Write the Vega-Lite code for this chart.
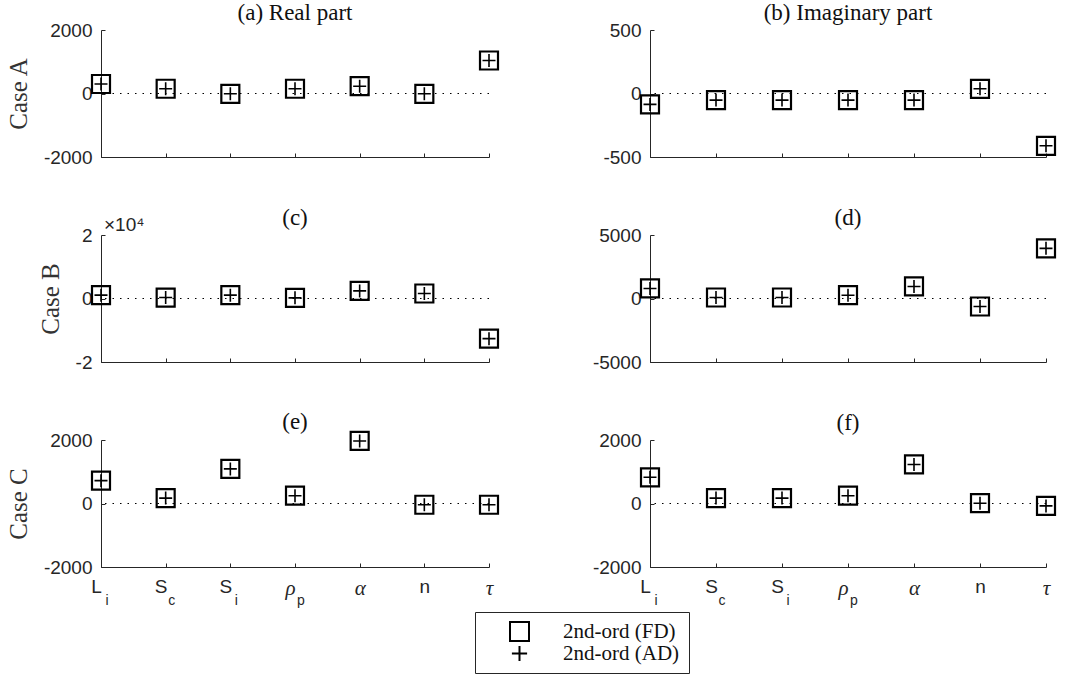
{
  "$schema": "https://vega.github.io/schema/vega-lite/v6.json",
  "background": "white",
  "padding": {"left": 6, "top": 2, "right": 5, "bottom": 5},
  "datasets": {
    "vals": [
      {"case": "A", "part": "Real", "param": "Li", "fd": 300, "ad": 300},
      {"case": "A", "part": "Real", "param": "Sc", "fd": 150, "ad": 150},
      {"case": "A", "part": "Real", "param": "Si", "fd": -10, "ad": -10},
      {"case": "A", "part": "Real", "param": "rho_p", "fd": 150, "ad": 150},
      {"case": "A", "part": "Real", "param": "alpha", "fd": 230, "ad": 230},
      {"case": "A", "part": "Real", "param": "n", "fd": -10, "ad": -10},
      {"case": "A", "part": "Real", "param": "tau", "fd": 1040, "ad": 1040},
      {"case": "A", "part": "Imag", "param": "Li", "fd": -86, "ad": -86},
      {"case": "A", "part": "Imag", "param": "Sc", "fd": -52, "ad": -52},
      {"case": "A", "part": "Imag", "param": "Si", "fd": -52, "ad": -52},
      {"case": "A", "part": "Imag", "param": "rho_p", "fd": -52, "ad": -52},
      {"case": "A", "part": "Imag", "param": "alpha", "fd": -52, "ad": -52},
      {"case": "A", "part": "Imag", "param": "n", "fd": 37, "ad": 37},
      {"case": "A", "part": "Imag", "param": "tau", "fd": -412, "ad": -412},
      {"case": "B", "part": "Real", "param": "Li", "fd": 1050, "ad": 1050},
      {"case": "B", "part": "Real", "param": "Sc", "fd": 300, "ad": 300},
      {"case": "B", "part": "Real", "param": "Si", "fd": 1050, "ad": 1050},
      {"case": "B", "part": "Real", "param": "rho_p", "fd": 200, "ad": 200},
      {"case": "B", "part": "Real", "param": "alpha", "fd": 2400, "ad": 2400},
      {"case": "B", "part": "Real", "param": "n", "fd": 1580, "ad": 1580},
      {"case": "B", "part": "Real", "param": "tau", "fd": -12640, "ad": -12640},
      {"case": "B", "part": "Imag", "param": "Li", "fd": 790, "ad": 790},
      {"case": "B", "part": "Imag", "param": "Sc", "fd": 80, "ad": 80},
      {"case": "B", "part": "Imag", "param": "Si", "fd": 80, "ad": 80},
      {"case": "B", "part": "Imag", "param": "rho_p", "fd": 260, "ad": 260},
      {"case": "B", "part": "Imag", "param": "alpha", "fd": 950, "ad": 950},
      {"case": "B", "part": "Imag", "param": "n", "fd": -630, "ad": -630},
      {"case": "B", "part": "Imag", "param": "tau", "fd": 3950, "ad": 3950},
      {"case": "C", "part": "Real", "param": "Li", "fd": 720, "ad": 720},
      {"case": "C", "part": "Real", "param": "Sc", "fd": 170, "ad": 170},
      {"case": "C", "part": "Real", "param": "Si", "fd": 1090, "ad": 1090},
      {"case": "C", "part": "Real", "param": "rho_p", "fd": 245, "ad": 245},
      {"case": "C", "part": "Real", "param": "alpha", "fd": 1970, "ad": 1970},
      {"case": "C", "part": "Real", "param": "n", "fd": -40, "ad": -40},
      {"case": "C", "part": "Real", "param": "tau", "fd": -40, "ad": -40},
      {"case": "C", "part": "Imag", "param": "Li", "fd": 825, "ad": 825},
      {"case": "C", "part": "Imag", "param": "Sc", "fd": 170, "ad": 170},
      {"case": "C", "part": "Imag", "param": "Si", "fd": 170, "ad": 170},
      {"case": "C", "part": "Imag", "param": "rho_p", "fd": 245, "ad": 245},
      {"case": "C", "part": "Imag", "param": "alpha", "fd": 1230, "ad": 1230},
      {"case": "C", "part": "Imag", "param": "n", "fd": 10, "ad": 10},
      {"case": "C", "part": "Imag", "param": "tau", "fd": -75, "ad": -75}
    ],
    "subs": [
      {"param": "Li", "sub": "i"},
      {"param": "Sc", "sub": "c"},
      {"param": "Si", "sub": "i"},
      {"param": "rho_p", "sub": "p"}
    ]
  },
  "columns": 2,
  "bounds": "flush",
  "align": "each",
  "spacing": {"row": 78, "column": 161},
  "resolve": {"scale": {"y": "independent", "shape": "shared"}, "legend": {"shape": "shared"}},
  "concat": [
    {
      "width": 388, "height": 127,
      "title": {"text": "(a) Real part", "offset": -4},
      "data": {"name": "vals"},
      "transform": [{"filter": "datum.case == 'A' && datum.part == 'Real'"}],
      "layer": [
        {"data": {"values": [{}]}, "mark": {"type": "rule", "strokeDash": [1.5, 6], "color": "black", "strokeWidth": 1}, "encoding": {"y": {"datum": 0}}},
        {"mark": {"type": "point", "filled": false, "size": 324, "strokeWidth": 2.2, "color": "black", "opacity": 1},
         "encoding": {
           "x": {"field": "param", "type": "ordinal", "sort": ["Li", "Sc", "Si", "rho_p", "alpha", "n", "tau"], "scale": {"type": "point", "padding": 0}, "axis": {"labels": false, "title": null}},
           "y": {"field": "fd", "type": "quantitative", "scale": {"domain": [-2000, 2000], "nice": false, "zero": false}, "axis": {"values": [-2000, 0, 2000], "title": "Case A", "labelExpr": "'' + datum.value"}},
           "shape": {"datum": "2nd-ord (FD)", "scale": {"domain": ["2nd-ord (FD)", "2nd-ord (AD)"], "range": ["square", "M-0.8,0H0.8M0,-0.8V0.8"]}}
         }},
        {"mark": {"type": "point", "filled": false, "size": 264, "strokeWidth": 1.6, "color": "black", "opacity": 1},
         "encoding": {
           "x": {"field": "param", "type": "ordinal", "sort": ["Li", "Sc", "Si", "rho_p", "alpha", "n", "tau"], "scale": {"type": "point", "padding": 0}, "axis": {"labels": false, "title": null}},
           "y": {"field": "ad", "type": "quantitative", "scale": {"domain": [-2000, 2000], "nice": false, "zero": false}, "axis": {"values": [-2000, 0, 2000], "title": "Case A", "labelExpr": "'' + datum.value"}},
           "shape": {"datum": "2nd-ord (AD)"}
         }}
      ]
    },
    {
      "width": 396, "height": 127,
      "title": {"text": "(b) Imaginary part", "offset": -4},
      "data": {"name": "vals"},
      "transform": [{"filter": "datum.case == 'A' && datum.part == 'Imag'"}],
      "layer": [
        {"data": {"values": [{}]}, "mark": {"type": "rule", "strokeDash": [1.5, 6], "color": "black", "strokeWidth": 1}, "encoding": {"y": {"datum": 0}}},
        {"mark": {"type": "point", "filled": false, "size": 324, "strokeWidth": 2.2, "color": "black", "opacity": 1},
         "encoding": {
           "x": {"field": "param", "type": "ordinal", "sort": ["Li", "Sc", "Si", "rho_p", "alpha", "n", "tau"], "scale": {"type": "point", "padding": 0}, "axis": {"labels": false, "title": null}},
           "y": {"field": "fd", "type": "quantitative", "scale": {"domain": [-500, 500], "nice": false, "zero": false}, "axis": {"values": [-500, 0, 500], "title": null, "labelExpr": "'' + datum.value"}},
           "shape": {"datum": "2nd-ord (FD)"}
         }},
        {"mark": {"type": "point", "filled": false, "size": 264, "strokeWidth": 1.6, "color": "black", "opacity": 1},
         "encoding": {
           "x": {"field": "param", "type": "ordinal", "sort": ["Li", "Sc", "Si", "rho_p", "alpha", "n", "tau"], "scale": {"type": "point", "padding": 0}, "axis": {"labels": false, "title": null}},
           "y": {"field": "ad", "type": "quantitative", "scale": {"domain": [-500, 500], "nice": false, "zero": false}, "axis": {"values": [-500, 0, 500], "title": null, "labelExpr": "'' + datum.value"}},
           "shape": {"datum": "2nd-ord (AD)"}
         }}
      ]
    },
    {
      "width": 388, "height": 127,
      "title": {"text": "(c)", "offset": -14},
      "data": {"name": "vals"},
      "transform": [{"filter": "datum.case == 'B' && datum.part == 'Real'"}],
      "layer": [
        {"data": {"values": [{}]}, "mark": {"type": "rule", "strokeDash": [1.5, 6], "color": "black", "strokeWidth": 1}, "encoding": {"y": {"datum": 0}}},
        {"mark": {"type": "point", "filled": false, "size": 324, "strokeWidth": 2.2, "color": "black", "opacity": 1},
         "encoding": {
           "x": {"field": "param", "type": "ordinal", "sort": ["Li", "Sc", "Si", "rho_p", "alpha", "n", "tau"], "scale": {"type": "point", "padding": 0}, "axis": {"labels": false, "title": null}},
           "y": {"field": "fd", "type": "quantitative", "scale": {"domain": [-20000, 20000], "nice": false, "zero": false}, "axis": {"values": [-20000, 0, 20000], "title": "Case B", "labelExpr": "'' + (datum.value / 10000)"}},
           "shape": {"datum": "2nd-ord (FD)"}
         }},
        {"mark": {"type": "point", "filled": false, "size": 264, "strokeWidth": 1.6, "color": "black", "opacity": 1},
         "encoding": {
           "x": {"field": "param", "type": "ordinal", "sort": ["Li", "Sc", "Si", "rho_p", "alpha", "n", "tau"], "scale": {"type": "point", "padding": 0}, "axis": {"labels": false, "title": null}},
           "y": {"field": "ad", "type": "quantitative", "scale": {"domain": [-20000, 20000], "nice": false, "zero": false}, "axis": {"values": [-20000, 0, 20000], "title": "Case B", "labelExpr": "'' + (datum.value / 10000)"}},
           "shape": {"datum": "2nd-ord (AD)"}
         }},
        {"data": {"values": [{"t": "×10⁴"}]},
         "mark": {"type": "text", "align": "left", "baseline": "bottom", "dx": 3, "dy": 0, "font": "Liberation Sans", "fontSize": 19, "color": "#262626"},
         "encoding": {"x": {"datum": "Li"}, "y": {"datum": 20000}, "text": {"field": "t"}}}
      ]
    },
    {
      "width": 396, "height": 127,
      "title": {"text": "(d)", "offset": -4},
      "data": {"name": "vals"},
      "transform": [{"filter": "datum.case == 'B' && datum.part == 'Imag'"}],
      "layer": [
        {"data": {"values": [{}]}, "mark": {"type": "rule", "strokeDash": [1.5, 6], "color": "black", "strokeWidth": 1}, "encoding": {"y": {"datum": 0}}},
        {"mark": {"type": "point", "filled": false, "size": 324, "strokeWidth": 2.2, "color": "black", "opacity": 1},
         "encoding": {
           "x": {"field": "param", "type": "ordinal", "sort": ["Li", "Sc", "Si", "rho_p", "alpha", "n", "tau"], "scale": {"type": "point", "padding": 0}, "axis": {"labels": false, "title": null}},
           "y": {"field": "fd", "type": "quantitative", "scale": {"domain": [-5000, 5000], "nice": false, "zero": false}, "axis": {"values": [-5000, 0, 5000], "title": null, "labelExpr": "'' + datum.value"}},
           "shape": {"datum": "2nd-ord (FD)"}
         }},
        {"mark": {"type": "point", "filled": false, "size": 264, "strokeWidth": 1.6, "color": "black", "opacity": 1},
         "encoding": {
           "x": {"field": "param", "type": "ordinal", "sort": ["Li", "Sc", "Si", "rho_p", "alpha", "n", "tau"], "scale": {"type": "point", "padding": 0}, "axis": {"labels": false, "title": null}},
           "y": {"field": "ad", "type": "quantitative", "scale": {"domain": [-5000, 5000], "nice": false, "zero": false}, "axis": {"values": [-5000, 0, 5000], "title": null, "labelExpr": "'' + datum.value"}},
           "shape": {"datum": "2nd-ord (AD)"}
         }}
      ]
    },
    {
      "width": 388, "height": 127,
      "title": {"text": "(e)", "offset": -6},
      "data": {"name": "vals"},
      "transform": [{"filter": "datum.case == 'C' && datum.part == 'Real'"}],
      "layer": [
        {"data": {"values": [{}]}, "mark": {"type": "rule", "strokeDash": [1.5, 6], "color": "black", "strokeWidth": 1}, "encoding": {"y": {"datum": 0}}},
        {"mark": {"type": "point", "filled": false, "size": 324, "strokeWidth": 2.2, "color": "black", "opacity": 1},
         "encoding": {
           "x": {"field": "param", "type": "ordinal", "sort": ["Li", "Sc", "Si", "rho_p", "alpha", "n", "tau"], "scale": {"type": "point", "padding": 0},
                 "axis": {"title": null, "labelPadding": 14, "labelAngle": 0,
                          "labelExpr": "datum.value == 'Li' ? 'L' : (datum.value == 'Sc' || datum.value == 'Si') ? 'S' : datum.value == 'rho_p' ? 'ρ' : datum.value == 'alpha' ? 'α' : datum.value == 'tau' ? 'τ' : 'n'",
                          "labelFont": {"condition": {"test": "datum.value == 'rho_p' || datum.value == 'alpha' || datum.value == 'tau'", "value": "Liberation Serif"}, "value": "Liberation Sans"},
                          "labelFontStyle": {"condition": {"test": "datum.value == 'rho_p' || datum.value == 'alpha' || datum.value == 'tau'", "value": "italic"}, "value": "normal"},
                          "labelFontSize": {"condition": {"test": "datum.value == 'rho_p' || datum.value == 'alpha' || datum.value == 'tau'", "value": 21}, "value": 19},
                          "labelOffset": {"condition": {"test": "datum.value == 'Li' || datum.value == 'Sc' || datum.value == 'Si' || datum.value == 'rho_p'", "value": -5}, "value": 0}}},
           "y": {"field": "fd", "type": "quantitative", "scale": {"domain": [-2000, 2000], "nice": false, "zero": false}, "axis": {"values": [-2000, 0, 2000], "title": "Case C", "labelExpr": "'' + datum.value"}},
           "shape": {"datum": "2nd-ord (FD)"}
         }},
        {"mark": {"type": "point", "filled": false, "size": 264, "strokeWidth": 1.6, "color": "black", "opacity": 1},
         "encoding": {
           "x": {"field": "param", "type": "ordinal", "sort": ["Li", "Sc", "Si", "rho_p", "alpha", "n", "tau"], "scale": {"type": "point", "padding": 0}},
           "y": {"field": "ad", "type": "quantitative", "scale": {"domain": [-2000, 2000], "nice": false, "zero": false}, "axis": {"values": [-2000, 0, 2000], "title": "Case C", "labelExpr": "'' + datum.value"}},
           "shape": {"datum": "2nd-ord (AD)"}
         }},
        {"data": {"name": "subs"},
         "mark": {"type": "text", "align": "center", "baseline": "alphabetic", "dx": 6, "dy": 38, "font": "Liberation Sans", "fontSize": 14, "color": "#262626"},
         "encoding": {"x": {"field": "param", "type": "ordinal", "sort": ["Li", "Sc", "Si", "rho_p", "alpha", "n", "tau"]}, "y": {"datum": -2000}, "text": {"field": "sub"}}}
      ]
    },
    {
      "width": 396, "height": 127,
      "title": {"text": "(f)", "offset": -4},
      "data": {"name": "vals"},
      "transform": [{"filter": "datum.case == 'C' && datum.part == 'Imag'"}],
      "layer": [
        {"data": {"values": [{}]}, "mark": {"type": "rule", "strokeDash": [1.5, 6], "color": "black", "strokeWidth": 1}, "encoding": {"y": {"datum": 0}}},
        {"mark": {"type": "point", "filled": false, "size": 324, "strokeWidth": 2.2, "color": "black", "opacity": 1},
         "encoding": {
           "x": {"field": "param", "type": "ordinal", "sort": ["Li", "Sc", "Si", "rho_p", "alpha", "n", "tau"], "scale": {"type": "point", "padding": 0},
                 "axis": {"title": null, "labelPadding": 14, "labelAngle": 0,
                          "labelExpr": "datum.value == 'Li' ? 'L' : (datum.value == 'Sc' || datum.value == 'Si') ? 'S' : datum.value == 'rho_p' ? 'ρ' : datum.value == 'alpha' ? 'α' : datum.value == 'tau' ? 'τ' : 'n'",
                          "labelFont": {"condition": {"test": "datum.value == 'rho_p' || datum.value == 'alpha' || datum.value == 'tau'", "value": "Liberation Serif"}, "value": "Liberation Sans"},
                          "labelFontStyle": {"condition": {"test": "datum.value == 'rho_p' || datum.value == 'alpha' || datum.value == 'tau'", "value": "italic"}, "value": "normal"},
                          "labelFontSize": {"condition": {"test": "datum.value == 'rho_p' || datum.value == 'alpha' || datum.value == 'tau'", "value": 21}, "value": 19},
                          "labelOffset": {"condition": {"test": "datum.value == 'Li' || datum.value == 'Sc' || datum.value == 'Si' || datum.value == 'rho_p'", "value": -5}, "value": 0}}},
           "y": {"field": "fd", "type": "quantitative", "scale": {"domain": [-2000, 2000], "nice": false, "zero": false}, "axis": {"values": [-2000, 0, 2000], "title": null, "labelExpr": "'' + datum.value"}},
           "shape": {"datum": "2nd-ord (FD)"}
         }},
        {"mark": {"type": "point", "filled": false, "size": 264, "strokeWidth": 1.6, "color": "black", "opacity": 1},
         "encoding": {
           "x": {"field": "param", "type": "ordinal", "sort": ["Li", "Sc", "Si", "rho_p", "alpha", "n", "tau"], "scale": {"type": "point", "padding": 0}},
           "y": {"field": "ad", "type": "quantitative", "scale": {"domain": [-2000, 2000], "nice": false, "zero": false}, "axis": {"values": [-2000, 0, 2000], "title": null, "labelExpr": "'' + datum.value"}},
           "shape": {"datum": "2nd-ord (AD)"}
         }},
        {"data": {"name": "subs"},
         "mark": {"type": "text", "align": "center", "baseline": "alphabetic", "dx": 6, "dy": 38, "font": "Liberation Sans", "fontSize": 14, "color": "#262626"},
         "encoding": {"x": {"field": "param", "type": "ordinal", "sort": ["Li", "Sc", "Si", "rho_p", "alpha", "n", "tau"]}, "y": {"datum": -2000}, "text": {"field": "sub"}}}
      ]
    }
  ],
  "config": {
    "view": {"stroke": null},
    "font": "Liberation Sans",
    "axis": {
      "grid": false, "domainColor": "#262626", "tickColor": "#262626", "labelColor": "#262626",
      "labelFont": "Liberation Sans", "labelFontSize": 19, "tickSize": -4, "domainWidth": 1, "tickWidth": 1,
      "titleFont": "Liberation Serif", "titleFontWeight": "normal", "titleFontSize": 25, "titleColor": "#333333",
      "labelFlush": false, "labelOverlap": false
    },
    "axisY": {"labelPadding": 13, "titlePadding": 12},
    "axisX": {"labelPadding": 14},
    "title": {"font": "Liberation Serif", "fontSize": 23, "fontWeight": "normal", "color": "#111111"},
    "legend": {
      "orient": "none", "legendX": 374, "legendY": 582, "direction": "vertical", "title": null,
      "strokeColor": "#262626", "padding": 9, "labelFont": "Liberation Serif", "labelFontSize": 21, "labelColor": "#111111",
      "symbolSize": 361, "symbolStrokeWidth": 2, "symbolStrokeColor": "black", "symbolFillColor": "transparent",
      "symbolOffset": 25, "labelOffset": 33, "rowPadding": 0, "clipHeight": 21
    }
  }
}
